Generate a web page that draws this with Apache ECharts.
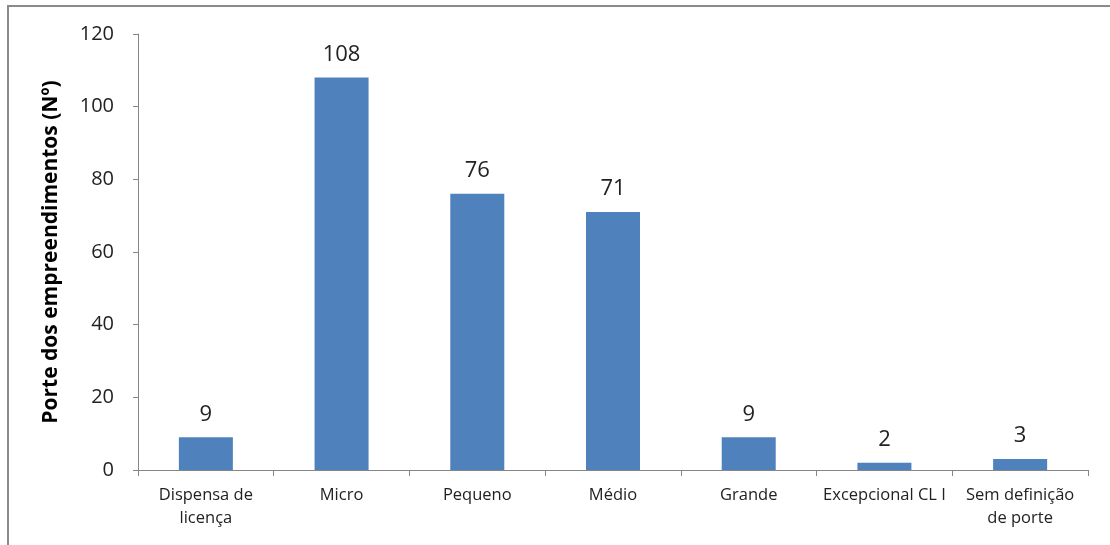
<!DOCTYPE html>
<html>
<head>
<meta charset="utf-8">
<script src="https://cdn.jsdelivr.net/npm/echarts@6/dist/echarts.min.js"></script>
<style>
  html, body { margin: 0; padding: 0; background: #fff; }
  #frame { position: absolute; left: 7px; top: 5px; width: 1103px; height: 540px;
           border-left: 2px solid #8a8a8a; border-top: 2px solid #8a8a8a; box-sizing: border-box; }
  #chart { position: absolute; left: 0; top: 0; width: 1110px; height: 545px; }
</style>
</head>
<body>
<div id="frame"></div>
<div id="chart"></div>
<script>
// Size classes of the enterprises and their counts
const categories = ['Dispensa de\nlicença', 'Micro', 'Pequeno', 'Médio', 'Grande', 'Excepcional CL I', 'Sem definição\nde porte'];
const counts = [9, 108, 76, 71, 9, 2, 3];
const yTitle = 'Porte dos empreendimentos (Nº)';

const FONT = '"Open Sans", "Noto Sans", sans-serif';
const axisGray = '#868686';

const chart = echarts.init(document.getElementById('chart'), null, { renderer: 'canvas' });
chart.setOption({
  animation: false,
  grid: { left: 138, right: 22, top: 34, bottom: 75, containLabel: false },
  xAxis: {
    type: 'category',
    data: categories,
    axisLine: { lineStyle: { color: axisGray, width: 1 } },
    axisTick: { show: true, alignWithLabel: false, length: 6, lineStyle: { color: axisGray } },
    axisLabel: { color: '#222', fontFamily: FONT, fontSize: 16.5, lineHeight: 23, margin: 14, interval: 0 }
  },
  yAxis: {
    type: 'value',
    min: 0, max: 120, interval: 20,
    name: yTitle,
    nameLocation: 'middle',
    nameGap: 76,
    nameTextStyle: { color: '#000', fontFamily: FONT, fontSize: 21, fontWeight: 'bold' },
    axisLine: { show: true, lineStyle: { color: axisGray, width: 1 } },
    axisTick: { show: true, length: 5, lineStyle: { color: axisGray } },
    axisLabel: { color: '#222', fontFamily: FONT, fontSize: 20, margin: 24 },
    splitLine: { show: false }
  },
  series: [{
    type: 'bar',
    data: counts,
    barWidth: 54,
    itemStyle: { color: '#4F81BD' },
    label: { show: true, position: 'top', distance: 12, color: '#222', fontFamily: FONT, fontSize: 22 }
  }]
});
</script>
</body>
</html>
